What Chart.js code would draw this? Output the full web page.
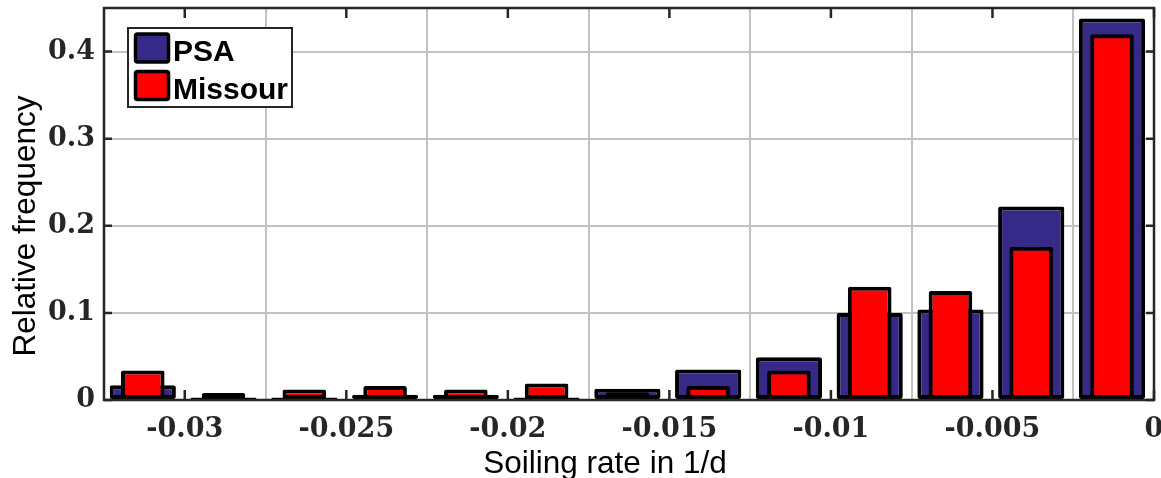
<!DOCTYPE html>
<html>
<head>
<meta charset="utf-8">
<script src="https://cdn.jsdelivr.net/npm/chart.js@4.4.1/dist/chart.umd.min.js"></script>
<style>
  html, body { margin: 0; padding: 0; background: #fff; }
</style>
</head>
<body>
<canvas id="chart" width="1161" height="478"></canvas>
<script>
// Histogram bin centres (soiling rate, 1/d)
const binCenters = [-0.0313, -0.0288, -0.0263, -0.0238, -0.0213, -0.0188, -0.0163,
                    -0.0138, -0.0113, -0.0088, -0.0063, -0.0038, -0.0013];

// Relative frequency per bin
const psaFreq     = [0.017, 0.003, 0.003, 0.006, 0.006, 0.003, 0.013,
                     0.035, 0.049, 0.100, 0.104, 0.222, 0.438];
const missourFreq = [0.034, 0.008, 0.012, 0.016, 0.012, 0.019, 0.009,
                     0.016, 0.034, 0.130, 0.125, 0.176, 0.420];

const seriesLabels = ['PSA', 'Missour'];
const xTitle = 'Soiling rate in 1/d';
const yTitle = 'Relative frequency';

const frameColor = '#262626';
const tickFont = { family: 'DejaVu Serif', weight: 'bold', size: 27 };

// Frame box with inward tick marks
const framePlugin = {
    id: 'frame',
    afterDatasetsDraw(chart) {
        const { ctx, chartArea: a, scales: { x, y } } = chart;
        ctx.save();
        ctx.strokeStyle = frameColor;
        ctx.lineWidth = 2.5;
        ctx.strokeRect(a.left, a.top, a.right - a.left, a.bottom - a.top);
        ctx.beginPath();
        x.ticks.forEach(t => {
            const px = x.getPixelForValue(t.value);
            ctx.moveTo(px, a.bottom); ctx.lineTo(px, a.bottom - 10);
            ctx.moveTo(px, a.top); ctx.lineTo(px, a.top + 10);
        });
        y.ticks.forEach(t => {
            const py = y.getPixelForValue(t.value);
            ctx.moveTo(a.left, py); ctx.lineTo(a.left + 8, py);
            ctx.moveTo(a.right, py); ctx.lineTo(a.right - 8, py);
        });
        ctx.stroke();
        ctx.restore();
    }
};

// Axis titles and boxed legend
const labelsPlugin = {
    id: 'labels',
    afterDraw(chart) {
        const { ctx } = chart;
        ctx.save();
        ctx.fillStyle = '#000';
        ctx.font = '31.5px "Liberation Sans", Arial, sans-serif';
        ctx.textAlign = 'center';
        ctx.textBaseline = 'alphabetic';
        ctx.fillText(xTitle, 605, 473);
        ctx.translate(35, 226);
        ctx.rotate(-Math.PI / 2);
        ctx.fillText(yTitle, 0, 0);
        ctx.restore();

        // legend
        ctx.save();
        ctx.fillStyle = '#fff';
        ctx.strokeStyle = frameColor;
        ctx.lineWidth = 2;
        ctx.fillRect(128, 28, 164, 79);
        ctx.strokeRect(128, 28, 164, 79);
        chart.data.datasets.forEach((ds, i) => {
            const top = 34 + i * 37.5;
            ctx.fillStyle = ds.backgroundColor;
            ctx.strokeStyle = '#000';
            ctx.lineWidth = 3.5;
            ctx.beginPath();
            ctx.roundRect(135.5, top, 33, 28, 2);
            ctx.fill();
            ctx.stroke();
            ctx.fillStyle = '#000';
            ctx.font = 'bold 30px "Liberation Sans", Arial, sans-serif';
            ctx.textAlign = 'left';
            ctx.textBaseline = 'alphabetic';
            ctx.fillText(ds.label, 173, top + 27);
        });
        ctx.restore();
    }
};

const barStyle = {
    borderColor: '#000',
    borderWidth: 4,
    borderSkipped: false,
    borderRadius: 2,
    categoryPercentage: 1,
    grouped: false
};

new Chart(document.getElementById('chart'), {
    type: 'bar',
    data: {
        datasets: [
            {
                ...barStyle,
                label: seriesLabels[0],
                data: binCenters.map((c, i) => ({ x: c, y: psaFreq[i] })),
                backgroundColor: '#352a87',
                barPercentage: 0.82,
                order: 1
            },
            {
                ...barStyle,
                label: seriesLabels[1],
                data: binCenters.map((c, i) => ({ x: c, y: missourFreq[i] })),
                backgroundColor: '#ff0000',
                barPercentage: 0.54,
                order: 0
            }
        ]
    },
    options: {
        responsive: false,
        animation: false,
        layout: { padding: { top: 8, right: 7, left: 0, bottom: 0 } },
        plugins: { legend: { display: false }, tooltip: { enabled: false } },
        scales: {
            x: {
                type: 'linear',
                min: -0.0325,
                max: 0,
                offset: false,
                border: { display: false },
                grid: { color: '#c2c2c2', lineWidth: 2, drawTicks: false },
                ticks: {
                    stepSize: 0.005,
                    includeBounds: false,
                    autoSkip: false,
                    maxRotation: 0,
                    padding: 14,
                    color: frameColor,
                    font: tickFont,
                    callback: v => String(Number(v.toFixed(4)))
                },
                afterFit(scale) {
                    scale.height = 78;
                    scale.paddingLeft = 0;
                    scale.paddingRight = 0;
                }
            },
            y: {
                min: 0,
                max: 0.45,
                border: { display: false },
                grid: { color: '#c2c2c2', lineWidth: 2, drawTicks: false },
                ticks: {
                    stepSize: 0.1,
                    includeBounds: false,
                    padding: 9,
                    color: frameColor,
                    font: tickFont,
                    callback: v => String(Number(v.toFixed(2)))
                },
                afterFit(scale) {
                    scale.width = 104;
                    scale.paddingTop = 0;
                    scale.paddingBottom = 0;
                }
            }
        }
    },
    plugins: [framePlugin, labelsPlugin]
});
</script>
</body>
</html>
